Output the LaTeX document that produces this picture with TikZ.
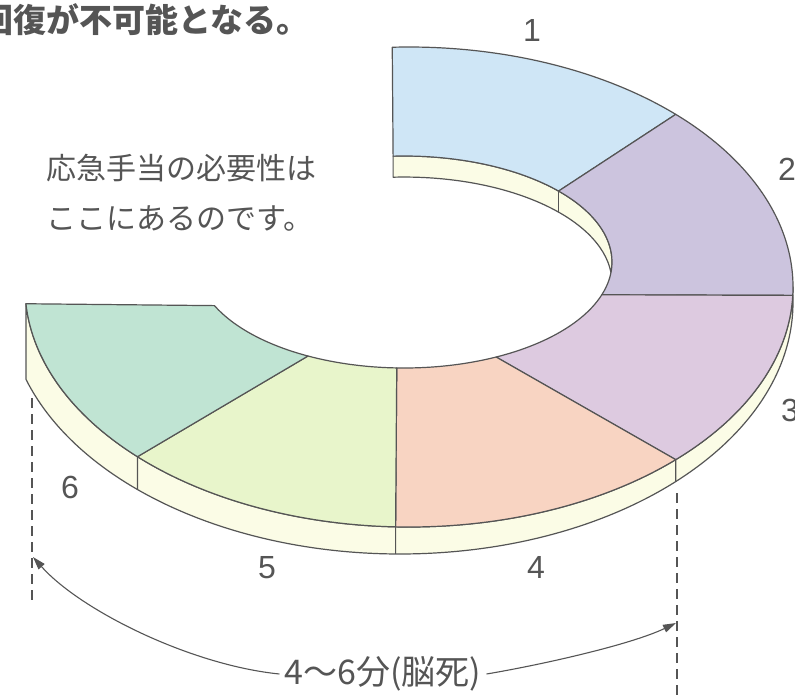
\documentclass[tikz,border=0pt]{standalone}
\usepackage{fontspec}
\setmainfont{Liberation Sans}
\newfontfamily\jp{Noto Sans CJK JP}
\usetikzlibrary{arrows.meta}
\definecolor{ink}{HTML}{555555}
\definecolor{c1}{HTML}{CFE6F6}
\definecolor{c2}{HTML}{CCC4DE}
\definecolor{c3}{HTML}{DDCAE0}
\definecolor{c4}{HTML}{F8D4C2}
\definecolor{c5}{HTML}{E8F5CB}
\definecolor{c6}{HTML}{C0E4D3}
\definecolor{sidec}{HTML}{FBFCE6}
\begin{document}
\begin{tikzpicture}[x=1pt,y=-1pt,
  Oarc/.style={x radius=384, y radius=240},
  Iarc/.style={x radius=208, y radius=106},
  Parc/.style={x radius=393, y radius=252},
  edge/.style={draw=ink, line width=1.2pt, line join=round},
  num/.style={text=ink, font=\fontsize{32}{32}\selectfont, inner sep=0pt},
  guide/.style={draw=ink, line width=1.1pt, dash pattern=on 10pt off 6pt},
  dimarrow/.style={draw=ink, line width=1.1pt, -{Triangle[length=13pt,width=8pt]}}]
\useasboundingbox (0,0) rectangle (795,696);
\clip (0,0) rectangle (795,696);
\fill[white] (0,0) rectangle (795,696);
% outer top ellipse points
\coordinate (O0) at ({409+384*cos(-92.5)},{287+240*sin(-92.5)});
\coordinate (O1) at ({409+384*cos(-46)},{287+240*sin(-46)});
\coordinate (O2) at ({409+384*cos(2)},{287+240*sin(2)});
\coordinate (O3) at ({409+384*cos(46)},{287+240*sin(46)});
\coordinate (O4) at ({409+384*cos(92)},{287+240*sin(92)});
\coordinate (O5) at ({409+384*cos(135)},{287+240*sin(135)});
\coordinate (O6) at ({409+384*cos(176)},{287+240*sin(176)});
% inner top ellipse points
\coordinate (I0) at ({404+208*cos(-93)},{262+106*sin(-93)});
\coordinate (I1) at ({404+208*cos(-42)},{262+106*sin(-42)});
\coordinate (I2) at ({404+208*cos(18)},{262+106*sin(18)});
\coordinate (I3) at ({404+208*cos(63.7)},{262+106*sin(63.7)});
\coordinate (I4) at ({404+208*cos(92)},{262+106*sin(92)});
\coordinate (I5) at ({404+208*cos(117.5)},{262+106*sin(117.5)});
\coordinate (I6) at ({404+208*cos(155.7)},{262+106*sin(155.7)});
% inner bottom
\coordinate (J1) at ({404+208*cos(-42)},{283+106*sin(-42)});
% outer bottom
\coordinate (Pa) at ({400+393*cos(-3.4)},{302+252*sin(-3.4)});
\coordinate (P3) at ({400+393*cos(45.43)},{302+252*sin(45.43)});
\coordinate (P4) at ({400+393*cos(90.64)},{302+252*sin(90.64)});
\coordinate (P5) at ({400+393*cos(131.9)},{302+252*sin(131.9)});
% outer side face
\path[edge, fill=sidec] (Pa) arc[Parc, start angle=-3.4, end angle=162.1] -- (O6) arc[Oarc, start angle=176, end angle=0] -- cycle;
\draw[edge] (O3) -- (P3) (O4) -- (P4) (O5) -- (P5);
% inner wall
\path[edge, fill=sidec] (I0) arc[Iarc, start angle=-93, end angle=5.7] arc[Iarc, start angle=-5.7, end angle=-93] -- cycle;
\draw[edge] (I1) -- (J1);
% top faces
\path[edge, fill=c1] (O0) arc[Oarc, start angle=-92.5, end angle=-46] -- (I1) arc[Iarc, start angle=-42, end angle=-93] -- cycle;
\path[edge, fill=c2] (O1) arc[Oarc, start angle=-46, end angle=2] -- (I2) arc[Iarc, start angle=18, end angle=-42] -- cycle;
\path[edge, fill=c3] (O2) arc[Oarc, start angle=2, end angle=46] -- (I3) arc[Iarc, start angle=63.7, end angle=18] -- cycle;
\path[edge, fill=c4] (O3) arc[Oarc, start angle=46, end angle=92] -- (I4) arc[Iarc, start angle=92, end angle=63.7] -- cycle;
\path[edge, fill=c5] (O4) arc[Oarc, start angle=92, end angle=135] -- (I5) arc[Iarc, start angle=117.5, end angle=92] -- cycle;
\path[edge, fill=c6] (O5) arc[Oarc, start angle=135, end angle=176] -- (I6) arc[Iarc, start angle=155.7, end angle=117.5] -- cycle;
% numbers
\node[num] (n1) at (532,30) {1};
\node[num] (n2) at (787,169) {2};
\node[num] (n3) at (790,410) {3};
\node[num] (n4) at (536,567) {4};
\node[num] (n5) at (267,568) {5};
\node[num] (n6) at (70,487) {6};
% texts
\node[anchor=base west, inner sep=0pt, text=ink, font=\jp\bfseries\fontsize{33}{33}\selectfont] (title) at (-20,32) {回復が不可能となる。};
\node[anchor=base west, inner sep=0pt, text=ink, font=\jp\fontsize{30}{30}\selectfont] (msg1) at (46,179) {応急手当の必要性は};
\node[anchor=base west, inner sep=0pt, text=ink, font=\jp\fontsize{30}{30}\selectfont] (msg2) at (46,229) {ここにあるのです。};
% guides
\coordinate (dl1) at (32,398);
\coordinate (dl2) at (32,602);
\coordinate (dr1) at (677,493);
\coordinate (dr2) at (677,700);
\draw[guide] (dl1) -- (dl2);
\draw[guide] (dr1) -- (dr2);
\coordinate (L) at (33,557);
\coordinate (R) at (676,623);
\node[text=ink, inner sep=5pt, font=\jp\fontsize{34}{34}\selectfont] (dur) at (383,674) {4～6分(脳死)};
\draw[dimarrow] (dur.west) .. controls (190,665) and (80,610) .. (L);
\draw[dimarrow] (dur.east) .. controls (540,665) and (630,645) .. (R);
\end{tikzpicture}
\end{document}
